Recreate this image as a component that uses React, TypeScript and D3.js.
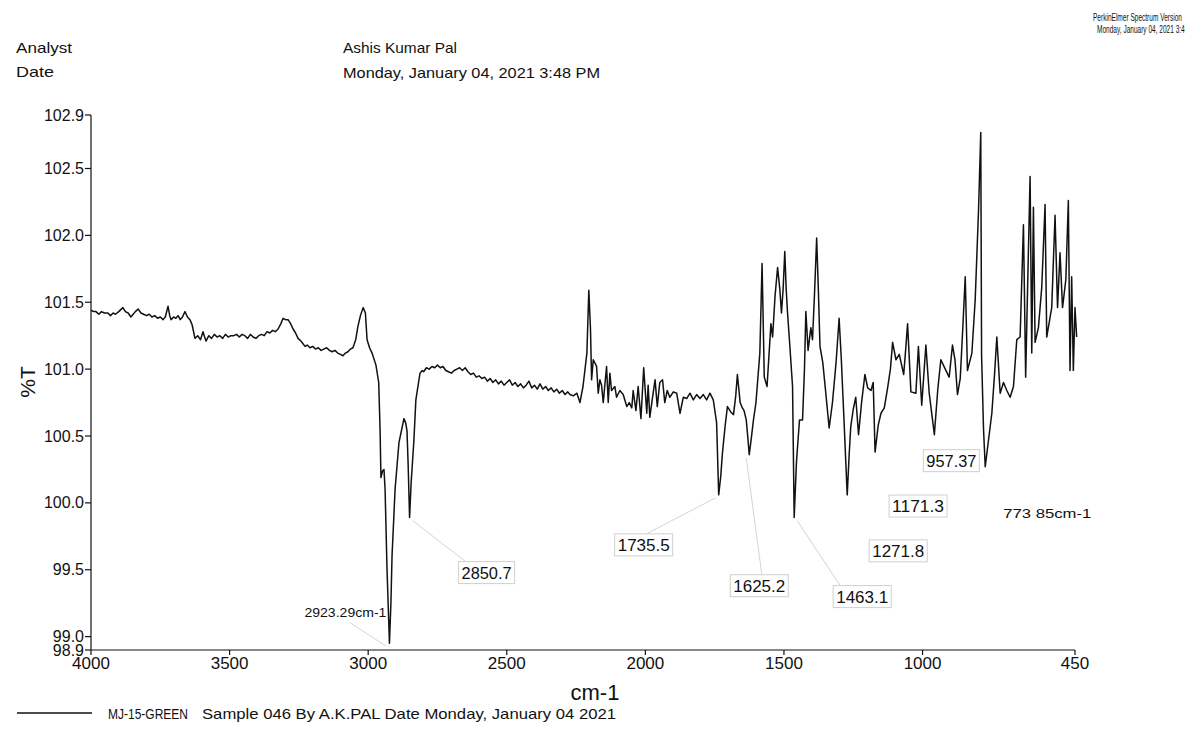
import React from "react";
import * as d3 from "d3";

// ---- Spectrum data: [wavenumber cm-1, %T] ----
const baselineHigh: [number, number][] = [
  [4000, 101.44], [3990, 101.43], [3982, 101.43], [3972, 101.41], [3962, 101.43], [3952, 101.42],
  [3939, 101.42], [3930, 101.4], [3920, 101.42], [3912, 101.41], [3900, 101.43], [3885, 101.46],
  [3876, 101.43], [3866, 101.42], [3856, 101.39], [3848, 101.41], [3840, 101.43], [3830, 101.45],
  [3820, 101.42], [3810, 101.41], [3800, 101.4], [3790, 101.41], [3780, 101.39], [3770, 101.4],
  [3760, 101.38], [3750, 101.39], [3740, 101.37], [3732, 101.39], [3722, 101.47], [3716, 101.4],
  [3711, 101.37], [3702, 101.39], [3694, 101.38], [3686, 101.4], [3678, 101.37], [3670, 101.39],
  [3661, 101.43], [3652, 101.39], [3643, 101.37], [3635, 101.33], [3625, 101.23], [3615, 101.25],
  [3605, 101.22], [3596, 101.28], [3590, 101.24], [3585, 101.21], [3575, 101.25], [3565, 101.23],
  [3555, 101.26], [3545, 101.24], [3535, 101.25], [3525, 101.23], [3515, 101.26], [3505, 101.24],
  [3495, 101.25], [3485, 101.25], [3475, 101.26], [3465, 101.24], [3455, 101.26], [3445, 101.25],
  [3435, 101.23], [3425, 101.26], [3415, 101.24], [3405, 101.23], [3395, 101.25], [3385, 101.26],
  [3375, 101.25], [3365, 101.28], [3355, 101.27], [3345, 101.29], [3335, 101.28], [3325, 101.3],
  [3315, 101.34], [3307, 101.38], [3298, 101.37], [3289, 101.37], [3280, 101.34], [3271, 101.3],
  [3262, 101.27], [3253, 101.23], [3243, 101.21], [3235, 101.19], [3228, 101.17], [3220, 101.18],
  [3210, 101.16], [3200, 101.17], [3190, 101.15], [3180, 101.16], [3170, 101.14], [3160, 101.15],
  [3150, 101.16], [3140, 101.14], [3130, 101.13], [3120, 101.14], [3110, 101.12], [3100, 101.11],
  [3091, 101.1], [3082, 101.12], [3073, 101.13], [3064, 101.15], [3055, 101.16], [3045, 101.22],
  [3037, 101.32], [3028, 101.4],
];

const chStretch: [number, number][] = [
  [3018, 101.46], [3010, 101.42], [3004, 101.22], [2995, 101.16], [2986, 101.12], [2972, 101.03],
  [2962, 100.9], [2957, 100.54], [2954, 100.19], [2948, 100.24], [2943, 100.25], [2939, 100.1],
  [2932, 99.5], [2923.29, 98.95], [2918, 99.25], [2914, 99.6], [2903, 100.1], [2889, 100.45],
  [2871, 100.63], [2865, 100.6], [2860, 100.54], [2856, 100.3], [2850.7, 99.89], [2845, 100.15],
  [2835, 100.47], [2828, 100.77], [2813, 100.97], [2805, 100.99],
];

const plateau: [number, number][] = [
  [2800, 100.98], [2790, 101.01], [2780, 101.0], [2770, 101.02], [2760, 101.01], [2750, 101.03],
  [2740, 101.01], [2730, 101.02], [2720, 100.99], [2710, 100.98], [2700, 100.97], [2690, 100.99],
  [2680, 101.0], [2670, 101.01], [2660, 100.99], [2650, 101.01], [2640, 100.98], [2630, 100.96],
  [2620, 100.97], [2610, 100.94], [2600, 100.95], [2590, 100.93], [2580, 100.94], [2570, 100.91],
  [2560, 100.93], [2550, 100.9], [2540, 100.92], [2530, 100.89], [2520, 100.91], [2510, 100.88],
  [2500, 100.9], [2490, 100.92], [2480, 100.88], [2470, 100.9], [2460, 100.87], [2450, 100.89],
  [2440, 100.86], [2430, 100.88], [2420, 100.91], [2410, 100.86], [2400, 100.88], [2390, 100.85],
  [2380, 100.89], [2370, 100.85], [2360, 100.87], [2350, 100.84], [2340, 100.86], [2330, 100.83],
  [2320, 100.85], [2310, 100.82], [2300, 100.84], [2290, 100.81], [2280, 100.83], [2272, 100.81],
];

const noisyMid: [number, number][] = [
  [2260, 100.8], [2247, 100.82], [2236, 100.75], [2225, 100.87], [2211, 101.12], [2204, 101.59],
  [2198, 101.3], [2194, 100.92], [2188, 101.07], [2176, 101.02], [2170, 100.82], [2164, 100.92],
  [2158, 100.88], [2152, 100.75], [2140, 101.02], [2134, 100.75], [2128, 100.97], [2122, 100.84],
  [2110, 100.87], [2104, 100.79], [2092, 100.84], [2080, 100.81], [2067, 100.72], [2058, 100.75],
  [2049, 100.71], [2044, 100.84], [2034, 100.69], [2026, 100.87], [2016, 100.63], [2006, 101.01],
  [1995, 100.67], [1990, 100.88], [1984, 100.64], [1974, 100.79], [1965, 100.92], [1957, 100.72],
  [1948, 100.9], [1938, 100.92], [1930, 100.75], [1921, 100.84], [1912, 100.79], [1899, 100.83],
  [1887, 100.82], [1875, 100.67], [1863, 100.79], [1851, 100.78], [1839, 100.82], [1827, 100.77],
  [1815, 100.81], [1803, 100.78], [1791, 100.81], [1779, 100.77], [1767, 100.82], [1755, 100.77],
  [1743, 100.6],
];

const fingerprint: [number, number][] = [
  [1735.5, 100.06], [1728, 100.2], [1722, 100.37], [1712, 100.58], [1704, 100.72], [1692, 100.68],
  [1682, 100.66], [1674, 100.8], [1668, 100.96], [1658, 100.75], [1650, 100.71], [1644, 100.69],
  [1636, 100.62], [1630, 100.48], [1625.2, 100.36], [1618, 100.48], [1610, 100.62], [1601, 100.75],
  [1587, 101.12], [1579, 101.79], [1571, 100.94], [1561, 100.87], [1547, 101.34], [1541, 101.24],
  [1532, 101.55], [1523, 101.76], [1515, 101.6], [1509, 101.42], [1503, 101.6], [1497, 101.88],
  [1492, 101.6], [1487, 101.42], [1478, 101.15], [1469, 100.87], [1463.1, 99.89], [1455, 100.3],
  [1444, 100.62], [1433, 100.62], [1426, 101.0], [1421, 101.43], [1413, 101.14], [1403, 101.31],
  [1397, 101.22], [1390, 101.55], [1382, 101.98], [1376, 101.6], [1370, 101.17], [1360, 101.05],
  [1349, 100.82], [1337, 100.56], [1325, 100.75], [1312, 101.05], [1301, 101.38], [1293, 101.07],
  [1283, 100.6], [1271.8, 100.06], [1265, 100.35], [1259, 100.57], [1250, 100.7], [1241, 100.79],
  [1231, 100.51], [1220, 100.75], [1208, 100.96], [1198, 100.86], [1186, 100.84], [1178, 100.9],
  [1171.3, 100.38], [1160, 100.58], [1150, 100.67], [1138, 100.71], [1126, 100.86], [1116, 101.0],
  [1108, 101.2], [1096, 101.07], [1084, 101.11], [1068, 100.96], [1060, 101.17], [1054, 101.34],
  [1042, 100.83], [1024, 100.82], [1015, 101.17], [1003, 100.73], [988, 101.18], [976, 100.82],
  [957.37, 100.51], [945, 100.85], [934, 101.07], [918, 101.0], [904, 100.94], [892, 101.18],
  [883, 101.07], [874, 100.81], [864, 100.93], [855, 101.3], [846, 101.69], [838, 100.99],
  [822, 101.12], [810, 101.52], [798, 102.19], [790, 102.77], [787, 101.1], [780, 100.55],
  [773.85, 100.27], [762, 100.47], [750, 100.67], [740, 100.97], [732, 101.24], [720, 100.82],
  [708, 100.9], [696, 100.84], [684, 100.79], [672, 100.87], [660, 101.22], [648, 101.24],
  [636, 102.08], [628, 100.94], [621, 101.61], [612, 102.44], [606, 101.12], [600, 102.21],
  [594, 101.2], [582, 101.31], [570, 101.61], [558, 102.23], [552, 101.24], [534, 101.46],
  [522, 102.15], [513, 101.46], [504, 101.87], [495, 101.46], [483, 101.67], [474, 102.26],
  [468, 100.99], [462, 101.69], [456, 100.99], [450, 101.46], [444, 101.24],
];

const xTicks = [4000, 3500, 3000, 2500, 2000, 1500, 1000, 450];
const yTicks = [102.9, 102.5, 102.0, 101.5, 101.0, 100.5, 100.0, 99.5, 99.0, 98.9];

// Peak annotations (wavenumber, printed text)
const peakWavenumbers = [2923.29, 2850.7, 1735.5, 1625.2, 1463.1, 1271.8, 1171.3, 957.37, 773.85];
const peakTexts = ["2923.29cm-1", "2850.7", "1735.5", "1625.2", "1463.1", "1271.8", "1171.3", "957.37", "773 85cm-1"];

// Label placement relative to each peak point (pixel offsets dx, dy) and text width
const labelLayout = [
  { dx: -85, dy: -26, boxed: false, size: 13, width: 82, leader: true },
  { dx: 52, dy: 61, boxed: true, size: 16, width: 50, leader: true },
  { dx: -101, dy: 56, boxed: true, size: 16, width: 52, leader: true },
  { dx: -16, dy: 137, boxed: true, size: 16, width: 52, leader: true },
  { dx: 42, dy: 85, boxed: true, size: 16, width: 52, leader: true },
  { dx: 25, dy: 62, boxed: true, size: 16, width: 52, leader: false },
  { dx: 17, dy: 60, boxed: true, size: 16, width: 52, leader: false },
  { dx: -8, dy: 32, boxed: true, size: 16, width: 50, leader: false },
  { dx: 18, dy: 51, boxed: false, size: 13, width: 88, leader: false },
];

const W = 1185;
const H = 731;
const FONT = "'Liberation Sans', Arial, sans-serif";

type TxtProps = { x: number; y: number; w: number; size: number; children: string };
// Condensed print-style text: squeezes a string into a fixed run width
const Cond = ({ x, y, w, size, children }: TxtProps) => (
  <text x={x} y={y} fontSize={size} textLength={w} lengthAdjust="spacingAndGlyphs">
    {children}
  </text>
);

export default function App() {
  const spectrum = [...baselineHigh, ...chStretch, ...plateau, ...noisyMid, ...fingerprint];
  const x = d3.scaleLinear().domain([4000, 450]).range([91, 1075]);
  const y = d3.scaleLinear().domain([98.9, 102.9]).range([650, 115]);
  const path = d3
    .line<[number, number]>()
    .x((d) => x(d[0]))
    .y((d) => y(d[1]))(spectrum) as string;

  const lookup = (wn: number) => spectrum.find((d) => d[0] === wn) as [number, number];

  return (
    <div style={{ position: "absolute", left: 0, top: 0 }}>
      <svg width={W} height={H} style={{ display: "block", background: "#fff" }}>
        {/* header */}
        <g fontFamily={FONT} fill="#111">
          <Cond x={16} y={53} w={56} size={15}>Analyst</Cond>
          <Cond x={16} y={77} w={38} size={15}>Date</Cond>
          <Cond x={343} y={53} w={114} size={15}>Ashis Kumar Pal</Cond>
          <Cond x={343} y={78} w={257} size={15}>Monday, January 04, 2021 3:48 PM</Cond>
          <Cond x={1093} y={21} w={89} size={11}>PerkinElmer Spectrum Version</Cond>
          <Cond x={1097} y={33} w={103} size={11}>Monday, January 04, 2021 3:48 PM</Cond>
        </g>

        {/* axes */}
        <g stroke="#111" strokeWidth={1.2} fill="none">
          <line x1={x(4000)} x2={x(4000)} y1={y(102.9)} y2={y(98.9)} />
          <line x1={x(4000)} x2={x(450)} y1={y(98.9)} y2={y(98.9)} />
          {yTicks.map((t) => (
            <line key={t} x1={x(4000) - 6} x2={x(4000)} y1={y(t)} y2={y(t)} />
          ))}
          {xTicks.map((t) => (
            <line key={t} x1={x(t)} x2={x(t)} y1={y(98.9)} y2={y(98.9) + 5} />
          ))}
        </g>
        <g fontFamily={FONT} fontSize={16} fill="#111">
          {yTicks.map((t) => (
            <text key={t} x={x(4000) - 7} y={y(t)} textAnchor="end" dominantBaseline="central">
              {t.toFixed(1)}
            </text>
          ))}
          {xTicks.map((t) => (
            <text key={t} x={x(t)} y={y(98.9) + 19} textAnchor="middle" fontSize={17}>
              {t}
            </text>
          ))}
          <text x={595} y={700} textAnchor="middle" fontSize={22}>cm-1</text>
          <text transform="translate(35,382) rotate(-90)" textAnchor="middle" fontSize={21}>%T</text>
        </g>

        {/* peak leaders and labels */}
        {peakWavenumbers.map((wn, i) => {
          const p = lookup(wn);
          const L = labelLayout[i];
          const px = x(p[0]);
          const py = y(p[1]);
          const tx = px + L.dx;
          const ty = py + L.dy;
          const w = L.width;
          return (
            <g key={wn}>
              {L.leader && (
                <line
                  x1={px + (L.dx > 0 ? 3 : -3)}
                  y1={py + 3}
                  x2={L.dx > 0 ? tx + 4 : tx + w * 0.55}
                  y2={L.boxed ? ty - L.size - 1 : ty + 5}
                  stroke="#d4d4d4"
                  strokeWidth={1}
                />
              )}
              {L.boxed && (
                <rect
                  x={tx - 3}
                  y={ty - L.size - 1}
                  width={w + 6}
                  height={L.size + 6}
                  fill="#fff"
                  stroke="#cfcfcf"
                  strokeWidth={1}
                />
              )}
              <g fontFamily={FONT} fill="#111">
                <Cond x={tx} y={ty} w={w} size={L.size}>{peakTexts[i]}</Cond>
              </g>
            </g>
          );
        })}

        {/* spectrum */}
        <path d={path} fill="none" stroke="#111" strokeWidth={1.5} strokeLinejoin="round" />

        {/* legend */}
        <line x1={17} x2={92} y1={713} y2={713} stroke="#111" strokeWidth={1.6} />
        <g fontFamily={FONT} fill="#111">
          <Cond x={108} y={719} w={80} size={15}>MJ-15-GREEN</Cond>
          <Cond x={202} y={719} w={414} size={15}>Sample 046 By A.K.PAL Date Monday, January 04 2021</Cond>
        </g>
      </svg>
    </div>
  );
}
